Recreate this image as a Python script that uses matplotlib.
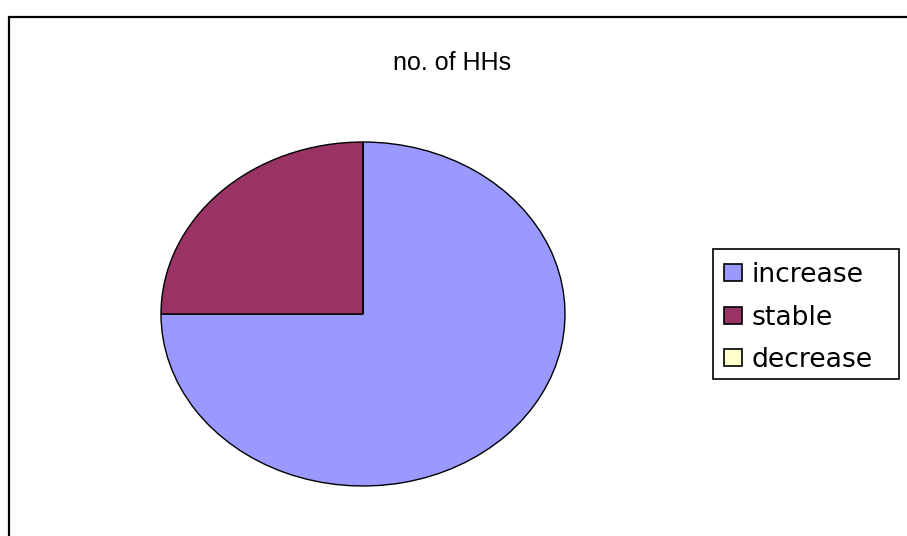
import matplotlib
matplotlib.use("Agg")
import matplotlib.pyplot as plt
from matplotlib.patches import Rectangle, Patch

# Household count trend
categories = ["increase", "stable", "decrease"]
values = [75, 25, 0]
colors = ["#9999FF", "#993366", "#FFFFCC"]
title = "no. of HHs"

W, H = 907, 536
plt.rcParams["font.family"] = ["Liberation Sans", "DejaVu Sans"]

fig = plt.figure(figsize=(W / 100, H / 100), dpi=100)
fig.patch.set_facecolor("white")


def fx(px):
    return px / W


def fy(py):
    return 1 - py / H


# chart area border (left and top edges visible)
fig.patches.append(Rectangle((fx(9), fy(H + 20)), fx(W + 20), fy(17) - fy(H + 20),
                             transform=fig.transFigure, fill=False,
                             edgecolor="black", linewidth=1.6, zorder=0))

# pie drawn in an axes spanning the ellipse's bounding box
cx, cy, rx, ry = 363, 314, 202, 172
ax = fig.add_axes([fx(cx - rx), fy(cy + ry), 2 * rx / W, 2 * ry / H])
wedges, _ = ax.pie(values, colors=colors, startangle=90, counterclock=False,
                   wedgeprops=dict(edgecolor="black", linewidth=1.0))
ax.set_aspect("auto")
ax.set_xlim(-1, 1)
ax.set_ylim(-1, 1)
ax.set_axis_off()

fig.text(fx(452), fy(63), title, ha="center", va="center", fontsize=18)

# legend box
fig.patches.append(Rectangle((fx(713), fy(379)), fx(899) - fx(713), fy(249) - fy(379),
                             transform=fig.transFigure, fill=True, facecolor="white",
                             edgecolor="black", linewidth=1.2, zorder=1))
handles = [Patch(facecolor=c, edgecolor="black", linewidth=1.2) for c in colors]
leg = fig.legend(handles, categories, loc="upper left",
                 bbox_to_anchor=(fx(724), fy(262)), frameon=False,
                 prop=dict(family="DejaVu Sans", size=19.2),
                 borderpad=0, borderaxespad=0,
                 handlelength=0.67, handleheight=0.6, handletextpad=0.37,
                 labelspacing=0.62)
leg.set_zorder(2)

fig.savefig("out.png", dpi=100, facecolor="white")
